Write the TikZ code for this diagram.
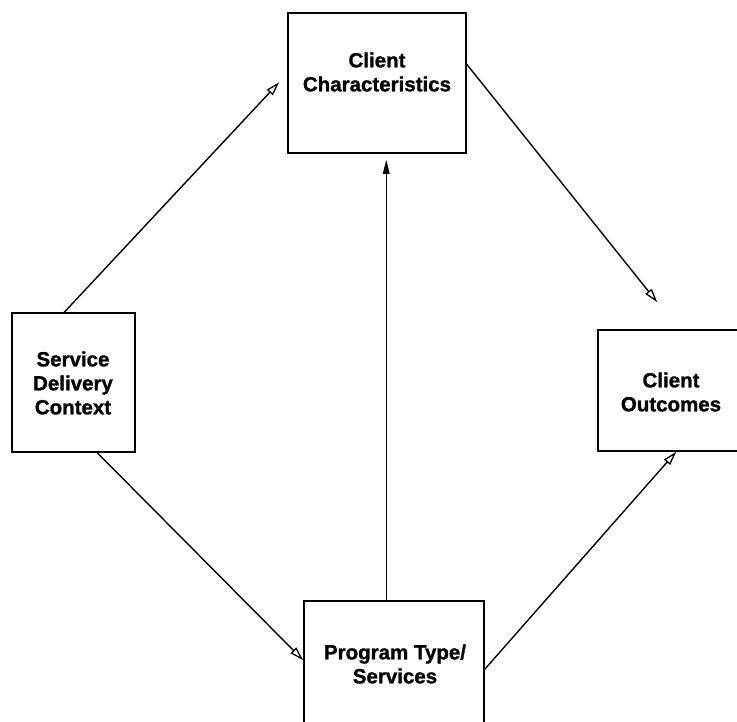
\documentclass[tikz,border=0pt]{standalone}
\usepackage{fontspec}
\setmainfont{Liberation Sans}
\newfontfamily\heavy[FakeBold=1.2]{Liberation Sans}
\usetikzlibrary{arrows.meta,calc}
\begin{document}
\begin{tikzpicture}[x=1pt,y=-1pt,
  box/.style={draw,line width=1.5pt,rectangle,inner sep=0pt},
  lbl/.style={align=center,font=\heavy\fontsize{20.5}{24}\selectfont\bfseries,inner sep=0pt},
  conn/.style={line width=1.4pt},
  oarr/.style={conn,-{Triangle[open,length=14pt,width=8pt,line width=1.3pt]}},
  farr/.style={conn,-{Triangle[length=14pt,width=6.5pt]}}]
\path[use as bounding box,clip] (0,0) rectangle (737,721);
\fill[white] (0,0) rectangle (737,721);
% boxes
\node[box,minimum width=178pt,minimum height=140pt] (cc) at (377,83) {};
\node[box,minimum width=123pt,minimum height=139pt] (sdc) at (73.5,382.5) {};
\node[box,minimum width=172pt,minimum height=121pt] (co) at (684,390.5) {};
\node[box,minimum width=180pt,minimum height=139pt] (pt) at (394,670.5) {};
% labels
\node[lbl] (ccl) at (377,72) {Client\\Characteristics};
\node[lbl] (sdcl) at (73,383) {Service\\Delivery\\Context};
\node[lbl] (col) at (671,392) {Client\\Outcomes};
\node[lbl] (ptl) at (395,664) {Program Type/\\Services};
% connectors
\draw[oarr] ($(sdc.north west)+(53,0)$) -- ($(cc.north west)+(-8,70)$);
\draw[oarr] ($(cc.north east)+(0,52)$) -- ($(co.north west)+(60,-27)$);
\draw[farr] ($(pt.north west)+(83,0)$) -- ($(cc.south west)+(99,6)$);
\draw[oarr] ($(sdc.south west)+(86,0)$) -- ($(pt.north west)+(0,60)$);
\draw[oarr] ($(pt.north east)+(0,69)$) -- ($(co.south west)+(79,0)$);
\end{tikzpicture}
\end{document}
